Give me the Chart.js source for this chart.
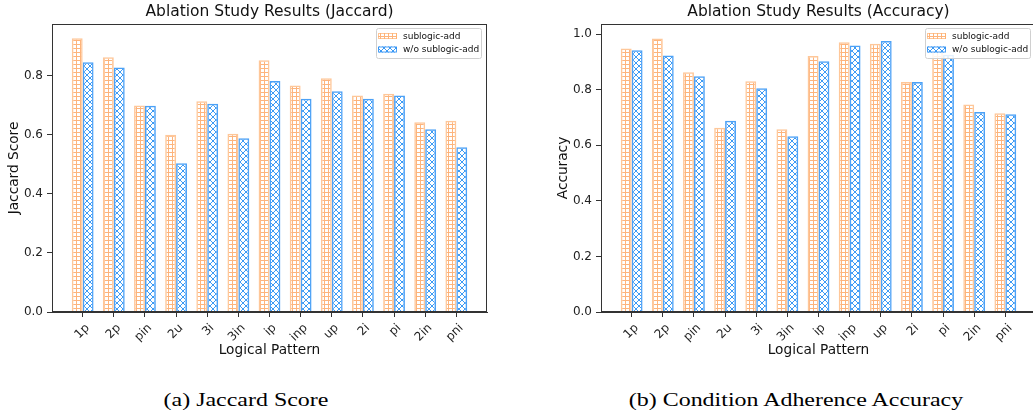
<!DOCTYPE html>
<html>
<head>
<meta charset="utf-8">
<script src="https://cdn.jsdelivr.net/npm/chart.js@4.4.0/dist/chart.umd.min.js"></script>
<style>
  html, body { margin: 0; padding: 0; background: #fff; overflow: hidden; width: 1033px; height: 410px; }
  canvas { position: absolute; top: 0; }
  .caption { position: absolute; top: 389px; font-family: "Liberation Serif", serif; font-size: 19px; color: #000;
             white-space: nowrap; transform: translateX(-50%) scaleX(1.26); }
</style>
</head>
<body>
<canvas id="jaccardChart" width="510" height="365" style="left:0px"></canvas>
<canvas id="accuracyChart" width="510" height="365" style="left:549px"></canvas>
<div class="caption" style="left:246px">(a) Jaccard Score</div>
<div class="caption" style="left:796px">(b) Condition Adherence Accuracy</div>
<script>
// données
const categories = ['1p', '2p', 'pin', '2u', '3i', '3in', 'ip', 'inp', 'up', '2i', 'pi', '2in', 'pni'];
const seriesNames = ['sublogic-add', 'w/o sublogic-add'];
const jaccardWith    = [0.928, 0.863, 0.700, 0.601, 0.714, 0.604, 0.853, 0.768, 0.792, 0.734, 0.740, 0.643, 0.648];
const jaccardWithout = [0.846, 0.829, 0.699, 0.504, 0.706, 0.589, 0.783, 0.723, 0.748, 0.723, 0.734, 0.619, 0.558];
const accWith        = [0.948, 0.984, 0.862, 0.663, 0.830, 0.657, 0.921, 0.970, 0.965, 0.827, 0.955, 0.746, 0.715];
const accWithout     = [0.942, 0.923, 0.848, 0.688, 0.805, 0.632, 0.902, 0.959, 0.975, 0.827, 0.925, 0.719, 0.711];
const yTicks = [0, 0.2, 0.4, 0.6, 0.8, 1.0];

const FONT = '"DejaVu Sans", sans-serif';
const orangeLine = '#fdb47c';
const blueLine = '#3d9bf5';

// hachure "+" (grille)
function gridHatch(color) {
    const c = document.createElement('canvas');
    c.width = 4; c.height = 4;
    const g = c.getContext('2d');
    g.fillStyle = color;
    g.fillRect(0, 0, 4, 1);
    g.fillRect(0, 0, 1, 4);
    return g.createPattern(c, 'repeat');
}

// hachure "x" (croisillons)
function crossHatch(color) {
    const s = 6;
    const c = document.createElement('canvas');
    c.width = s; c.height = s;
    const g = c.getContext('2d');
    g.strokeStyle = color;
    g.lineWidth = 1;
    g.beginPath();
    g.moveTo(-1, -1); g.lineTo(s + 1, s + 1);
    g.moveTo(s + 1, -1); g.lineTo(-1, s + 1);
    g.stroke();
    return g.createPattern(c, 'repeat');
}

// cadre complet autour de la zone du graphe
const framePlugin = {
    id: 'frame',
    afterDatasetsDraw(chart) {
        const { ctx, chartArea: a } = chart;
        ctx.save();
        ctx.strokeStyle = '#333';
        ctx.lineWidth = 1;
        ctx.strokeRect(Math.round(a.left) + 0.5, Math.round(a.top) + 0.5,
                       Math.round(a.right - a.left) - 1, Math.round(a.bottom - a.top) - 1);
        ctx.restore();
    }
};

// légende dans le coin haut droit, comme matplotlib
const legendBoxPlugin = {
    id: 'legendBox',
    afterDraw(chart) {
        const { ctx, chartArea: a } = chart;
        const w = 105, h = 30;
        const x = Math.round(a.right) - 6 - w, y = Math.round(a.top) + 4;
        ctx.save();
        ctx.fillStyle = 'rgba(255,255,255,0.85)';
        ctx.strokeStyle = '#d0d0d0';
        ctx.lineWidth = 1;
        ctx.beginPath();
        ctx.roundRect(x + 0.5, y + 0.5, w, h, 2);
        ctx.fill();
        ctx.stroke();
        chart.data.datasets.forEach((ds, i) => {
            const ry = y + 5 + i * 13.5;
            ctx.fillStyle = '#fff';
            ctx.fillRect(x + 2, ry, 19, 6);
            ctx.fillStyle = ds.backgroundColor;
            ctx.fillRect(x + 2, ry, 19, 6);
            ctx.strokeStyle = ds.borderColor;
            ctx.strokeRect(x + 2.5, ry + 0.5, 18, 5);
            ctx.fillStyle = '#111';
            ctx.font = '9px ' + FONT;
            ctx.textBaseline = 'middle';
            ctx.fillText(ds.label, x + 27, ry + 3.5);
        });
        ctx.restore();
    }
};

function makeChart(id, title, yLabel, withVals, withoutVals, yMax) {
    const ctx = document.getElementById(id).getContext('2d');
    return new Chart(ctx, {
        type: 'bar',
        data: {
            datasets: [{
                label: seriesNames[0],
                data: withVals.map((v, i) => ({ x: i, y: v })),
                backgroundColor: gridHatch(orangeLine),
                borderColor: 'rgba(253,175,110,0.7)',
                borderWidth: 1.5
            }, {
                label: seriesNames[1],
                data: withoutVals.map((v, i) => ({ x: i, y: v })),
                backgroundColor: crossHatch(blueLine),
                borderColor: 'rgba(45,145,245,0.85)',
                borderWidth: 1.5
            }]
        },
        options: {
            responsive: false,
            animation: false,
            events: [],
            datasets: { bar: { categoryPercentage: 0.7, barPercentage: 1.0 } },
            layout: { padding: { left: 0, right: 23, top: 0, bottom: 0 } },
            scales: {
                x: {
                    type: 'linear',
                    offset: false,
                    min: -0.985,
                    max: 12.985,
                    afterBuildTicks: s => { s.ticks = categories.map((c, i) => ({ value: i })); },
                    afterFit: s => { s.height = 365 - 312; },
                    ticks: {
                        callback: v => categories[v],
                        minRotation: 45, maxRotation: 45,
                        padding: 4, labelOffset: 5,
                        font: { family: FONT, size: 12 }, color: '#222'
                    },
                    grid: { offset: false, drawOnChartArea: false, tickLength: 5, color: '#333' },
                    border: { color: '#333' },
                    title: {
                        display: true, text: 'Logical Pattern',
                        font: { family: FONT, size: 13.7 }, color: '#111',
                        padding: { top: 0, bottom: 6 }
                    }
                },
                y: {
                    min: 0,
                    max: yMax,
                    afterBuildTicks: s => { s.ticks = yTicks.filter(t => t <= yMax).map(v => ({ value: v })); },
                    afterFit: s => { s.width = 52; },
                    ticks: {
                        callback: v => v.toFixed(1),
                        padding: 4,
                        font: { family: FONT, size: 12 }, color: '#222'
                    },
                    grid: { drawOnChartArea: false, tickLength: 5, color: '#333' },
                    border: { color: '#333' },
                    title: {
                        display: true, text: yLabel,
                        font: { family: FONT, size: 13.7 }, color: '#111',
                        padding: { top: 6, bottom: 0 }
                    }
                }
            },
            plugins: {
                legend: { display: false },
                tooltip: { enabled: false },
                title: {
                    display: true, text: title, fullSize: false,
                    font: { family: FONT, size: 15.5, weight: 'normal' }, color: '#111',
                    padding: { top: 3, bottom: 2.4 }
                }
            }
        },
        plugins: [framePlugin, legendBoxPlugin]
    });
}

makeChart('jaccardChart', 'Ablation Study Results (Jaccard)', 'Jaccard Score', jaccardWith, jaccardWithout, 0.976);
makeChart('accuracyChart', 'Ablation Study Results (Accuracy)', 'Accuracy', accWith, accWithout, 1.036);
</script>
</body>
</html>
